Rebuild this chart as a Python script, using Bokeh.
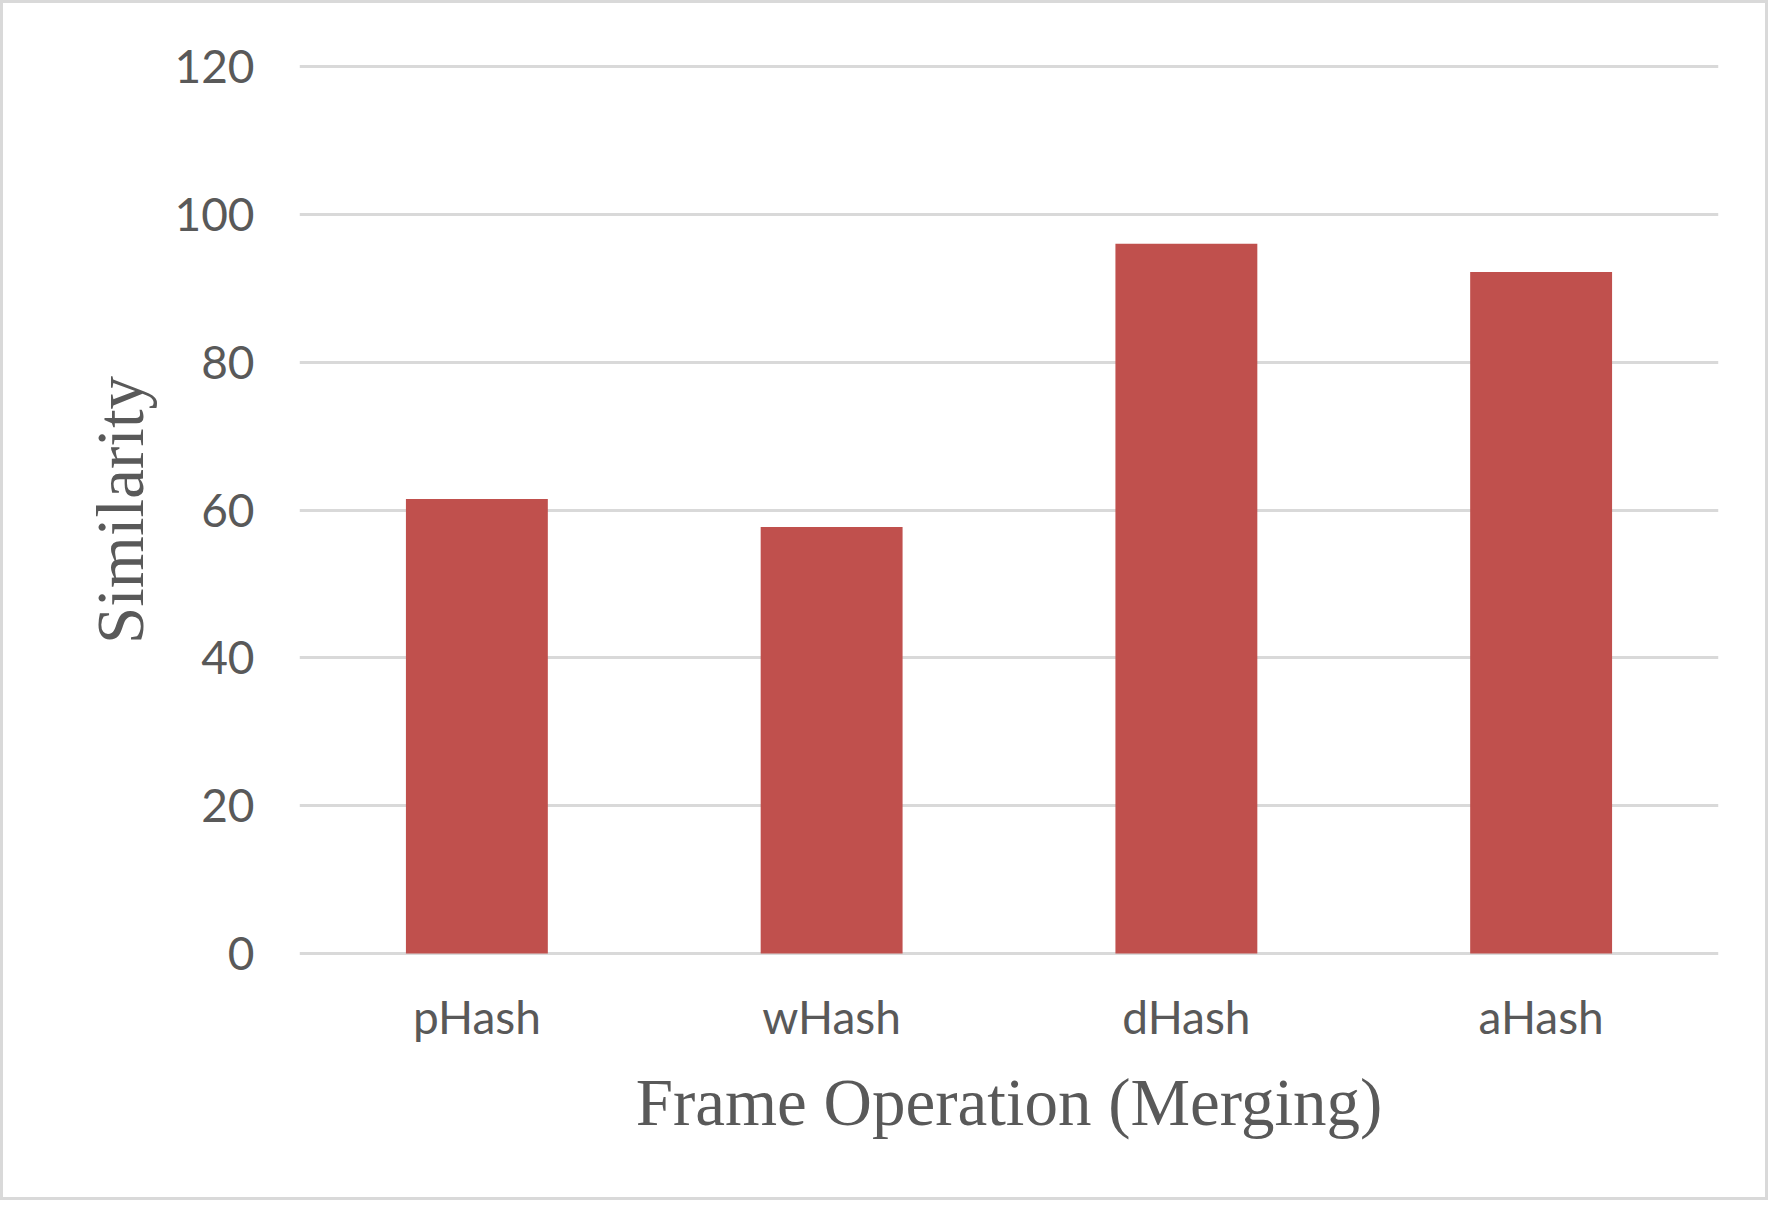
from bokeh.plotting import figure
from bokeh.models import ColumnDataSource, FactorRange, Range1d, FixedTicker
from bokeh.embed import file_html
from bokeh.resources import INLINE

# Data
methods = ["pHash", "wHash", "dHash", "aHash"]
similarity = [61.5, 57.7, 96.0, 92.2]
y_ticks = [0, 20, 40, 60, 80, 100, 120]
x_title = "Frame Operation (Merging)"
y_title = "Similarity"

src = ColumnDataSource(data=dict(method=methods, value=similarity))

p = figure(
    width=1768, height=1200,
    x_range=FactorRange(*methods, range_padding=0),
    y_range=Range1d(-0.4, 120.4),
    output_backend="svg", toolbar_location=None,
    min_border_left=299, min_border_right=50,
    min_border_top=63, min_border_bottom=244,
)

TEXT = "#595959"
GRID = "#d9d9d9"

p.vbar(x="method", top="value", bottom=0, width=0.4, source=src,
       fill_color="#C0504D", line_color=None)

p.outline_line_color = None
p.xgrid.grid_line_color = None
p.ygrid.grid_line_color = GRID
p.ygrid.grid_line_width = 3

p.yaxis.ticker = FixedTicker(ticks=y_ticks)
for ax in (p.xaxis[0], p.yaxis[0]):
    ax.axis_line_color = None
    ax.major_tick_line_color = None
    ax.minor_tick_line_color = None
    ax.major_tick_out = 0
    ax.major_tick_in = 0
    ax.minor_tick_out = 0
    ax.major_label_text_font = "Lato"
    ax.major_label_text_font_size = "46px"
    ax.major_label_text_color = TEXT
    ax.axis_label_text_font = "Liberation Serif"
    ax.axis_label_text_font_size = "67px"
    ax.axis_label_text_font_style = "normal"
    ax.axis_label_text_color = TEXT

p.yaxis.major_label_standoff = 45
p.yaxis.axis_label = y_title
p.yaxis.axis_label_standoff = 14

p.xaxis.major_label_standoff = 32
p.xaxis.axis_label = x_title
p.xaxis.axis_label_standoff = 18

p.background_fill_color = "white"
p.border_fill_color = "white"
p.border_fill_alpha = 0.0
p.styles = {"outline": "3px solid #d9d9d9", "outline-offset": "-3px",
            "background-color": "white"}

open("out.html", "w").write(file_html(p, INLINE))
